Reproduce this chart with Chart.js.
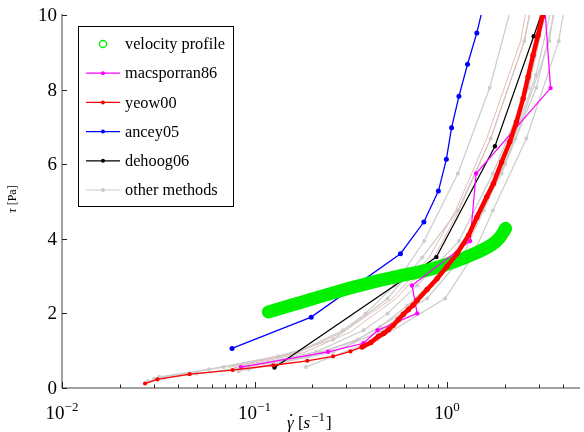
<!DOCTYPE html>
<html>
<head>
<meta charset="utf-8">
<script src="https://cdn.jsdelivr.net/npm/chart.js@4.4.1/dist/chart.umd.min.js"></script>
<style>
  html, body { margin: 0; padding: 0; background: #fff; overflow: hidden; }
  #wrap { width: 584px; height: 432px; }
</style>
</head>
<body>
<div id="wrap"><canvas id="chart" width="584" height="432"></canvas></div>
<script>
// ---- data (shear rate [1/s], stress [Pa]) ----
const velX = [0.118, 0.150, 0.201, 0.271, 0.365, 0.436, 0.586, 0.789, 1.061, 1.428, 1.706, 1.875, 2.015];
const velTau = [2.04, 2.20, 2.39, 2.59, 2.77, 2.87, 3.02, 3.16, 3.36, 3.63, 3.84, 4.03, 4.28];

const macX = [0.085, 0.241, 0.368, 0.436, 0.700, 0.658, 1.318, 1.416, 3.45, 3.20];
const macTau = [0.56, 0.97, 1.20, 1.55, 2.00, 2.75, 3.94, 5.75, 8.04, 10.4];

const yeowX = [0.027, 0.0313, 0.046, 0.077, 0.125, 0.188, 0.256, 0.315, 0.362, 0.402, 0.441, 0.468,
  0.497, 0.525, 0.559, 0.594, 0.630, 0.666, 0.700, 0.788, 0.887, 1.00, 1.127, 1.294, 1.428, 1.607,
  1.741, 1.922, 2.120, 2.295, 2.485, 2.635, 2.797, 2.969, 3.126, 3.28];
const yeowTau = [0.12, 0.23, 0.37, 0.48, 0.61, 0.73, 0.85, 0.98, 1.10, 1.22, 1.39, 1.46,
  1.57, 1.68, 1.83, 1.98, 2.10, 2.22, 2.35, 2.64, 2.93, 3.26, 3.60, 4.09, 4.58, 5.12,
  5.48, 6.06, 6.60, 7.13, 7.76, 8.34, 8.92, 9.46, 9.95, 10.45];

const anceyX = [0.0764, 0.197, 0.573, 0.758, 0.902, 0.992, 1.056, 1.153, 1.278, 1.428, 1.564];
const anceyTau = [1.06, 1.90, 3.60, 4.45, 5.28, 6.13, 6.98, 7.82, 8.68, 9.52, 10.37];

const dehoogX = [0.127, 0.881, 1.774, 2.82, 3.26];
const dehoogTau = [0.55, 3.51, 6.48, 9.43, 10.37];

const otherX = [
  [0.032, 0.0692, 0.169, 0.288, 0.378, 0.533, 0.761, 1.139, 1.666, 2.23],
  [0.0301, 0.0579, 0.133, 0.256, 0.491, 0.743, 1.139, 1.686, 2.52, 2.84],
  [0.028, 0.034, 0.050, 0.080, 0.140, 0.220, 0.330, 0.450, 0.620, 0.900, 1.35, 2.00, 2.90, 3.60],
  [0.0877, 0.209, 0.369, 0.491, 0.700, 1.153, 1.73, 2.65, 3.40],
  [0.0827, 0.190, 0.344, 0.788, 1.195, 1.55, 2.27, 3.40, 3.69],
  [0.0931, 0.256, 0.462, 0.586, 0.837, 1.268, 1.921, 2.911, 3.80],
  [0.185, 0.256, 0.436, 0.977, 1.345, 1.73, 2.585, 3.80, 4.20]
];
const otherTau = [
  [0.30, 0.56, 0.97, 1.55, 2.00, 2.75, 3.94, 5.75, 8.05, 10.5],
  [0.25, 0.50, 0.85, 1.30, 2.40, 3.50, 4.76, 6.69, 9.30, 10.6],
  [0.18, 0.27, 0.38, 0.52, 0.72, 0.95, 1.25, 1.65, 2.20, 3.00, 4.30, 6.00, 8.40, 10.5],
  [0.56, 0.97, 1.55, 2.00, 2.75, 3.94, 5.75, 8.05, 10.5],
  [0.45, 0.85, 1.30, 2.40, 3.50, 4.76, 6.69, 9.30, 10.6],
  [0.50, 0.97, 1.55, 2.00, 2.75, 3.94, 5.75, 8.05, 10.5],
  [0.56, 0.85, 1.30, 2.40, 3.50, 4.76, 6.69, 9.30, 10.6]
];
// two faint rosy curves next to dehoog06
const rosyX = [
  [0.0734, 0.169, 0.288, 0.521, 0.807, 1.11, 1.608, 2.41, 2.68],
  [0.0789, 0.181, 0.314, 0.545, 0.857, 1.153, 1.686, 2.52, 2.81]
];
const rosyTau = [0.55, 0.95, 1.50, 2.40, 3.50, 4.76, 6.69, 9.30, 10.6];

const yTicks = [0, 2, 4, 6, 8, 10];
const xTickExps = [-2, -1, 0];

const SERIF = '"Liberation Serif", "Times New Roman", serif';

function pts(xs, ys) {
  return xs.map((x, i) => ({ x: x, y: ys[i] }));
}

function lineSet(label, xs, ys, color, extra) {
  return Object.assign({
    label: label,
    data: pts(xs, ys),
    borderColor: color,
    backgroundColor: color,
    borderWidth: 1.2,
    pointRadius: 2.2,
    pointBorderWidth: 0,
    pointBackgroundColor: color,
    tension: 0,
    clip: 0
  }, extra || {});
}

// datasets listed top-most first (chart.js paints index 0 last)
const datasets = [
  lineSet("yeow00", yeowX, yeowTau, "#ff0000", {
    borderWidth: 1.3,
    pointRadius: (c) => (c.dataIndex >= 8 ? 2.7 : 2.1),
    segment: { borderWidth: (c) => (c.p0DataIndex >= 8 ? 4.5 : 1.3) }
  }),
  lineSet("macsporran86", macX, macTau, "#ff00ff"),
  lineSet("velocity profile", velX, velTau, "rgb(0,240,0)", {
    borderWidth: 13,
    borderCapStyle: "round",
    borderJoinStyle: "round",
    pointRadius: 0,
    tension: 0.4
  }),
  lineSet("dehoog06", dehoogX, dehoogTau, "#000000"),
  lineSet("ancey05", anceyX, anceyTau, "#0000ff", { borderWidth: 1.3, pointRadius: 2.5 })
];
rosyX.forEach((xs) => {
  datasets.push(lineSet("rosy", xs, rosyTau, "rgb(220,190,183)", { borderWidth: 1, pointRadius: 0 }));
});
otherX.forEach((xs, i) => {
  datasets.push(lineSet(i === 0 ? "other methods" : "other", xs, otherTau[i], "rgb(204,204,204)", {
    borderWidth: 1.2,
    pointRadius: 2
  }));
});

const legendOrder = ["velocity profile", "macsporran86", "yeow00", "ancey05", "dehoog06", "other methods"];

function drawPow(ctx, base, exp, cx, baseline) {
  ctx.font = "19px " + SERIF;
  const wb = ctx.measureText(base).width;
  ctx.font = "13px " + SERIF;
  const we = ctx.measureText(exp).width;
  const x0 = cx - (wb + we) / 2;
  ctx.textAlign = "left";
  ctx.textBaseline = "alphabetic";
  ctx.font = "19px " + SERIF;
  ctx.fillText(base, x0, baseline);
  ctx.font = "13px " + SERIF;
  ctx.fillText(exp, x0 + wb, baseline - 8);
}

const axesPlugin = {
  id: "axes",
  afterDatasetsDraw(chart) {
    const { ctx, chartArea, scales } = chart;
    const xs = scales.x, ys = scales.y;
    const left = chartArea.left, bottom = chartArea.bottom;
    ctx.save();
    ctx.strokeStyle = "#444";
    ctx.lineWidth = 1;
    ctx.beginPath();
    ctx.moveTo(left, chartArea.top - 1);
    ctx.lineTo(left, bottom);
    ctx.lineTo(chartArea.right, bottom);
    ctx.stroke();

    // ticks point inward
    ctx.strokeStyle = "#222";
    ctx.beginPath();
    yTicks.forEach((v) => {
      const py = Math.round(ys.getPixelForValue(v)) + 0.5;
      ctx.moveTo(left, py);
      ctx.lineTo(left + 5, py);
    });
    for (let d = -2; d <= 0; d++) {
      for (let k = 1; k <= 9; k++) {
        const v = k * Math.pow(10, d);
        if (v > xs.max) break;
        const px = Math.round(xs.getPixelForValue(v)) + 0.5;
        ctx.moveTo(px, bottom);
        ctx.lineTo(px, bottom - (k === 1 ? 6 : 3.5));
      }
    }
    ctx.stroke();

    // tick labels
    ctx.fillStyle = "#000";
    ctx.font = "19px " + SERIF;
    ctx.textAlign = "right";
    ctx.textBaseline = "middle";
    yTicks.forEach((v) => {
      ctx.fillText(String(v), left - 5, ys.getPixelForValue(v) + 1);
    });
    xTickExps.forEach((e) => {
      const exp = e < 0 ? "\u2212" + Math.abs(e) : String(e);
      drawPow(ctx, "10", exp, xs.getPixelForValue(Math.pow(10, e)), 419);
    });

    // x title: gamma-dot [s^-1]
    let x = 287;
    const base = 428;
    ctx.textAlign = "left";
    ctx.textBaseline = "alphabetic";
    ctx.font = "italic 17px " + SERIF;
    ctx.fillText("\u03b3", x, base);
    const wg = ctx.measureText("\u03b3").width;
    ctx.beginPath();
    ctx.arc(x + wg * 0.62, base - 13, 1.1, 0, Math.PI * 2);
    ctx.fill();
    x += wg;
    ctx.font = "17px " + SERIF;
    ctx.fillText(" [", x, base);
    x += ctx.measureText(" [").width;
    ctx.font = "italic 17px " + SERIF;
    ctx.fillText("s", x, base);
    x += ctx.measureText("s").width + 1;
    ctx.font = "13px " + SERIF;
    ctx.fillText("\u22121", x, base - 7);
    x += ctx.measureText("\u22121").width + 1;
    ctx.font = "17px " + SERIF;
    ctx.fillText("]", x, base);

    // y title: tau [Pa]
    ctx.save();
    ctx.translate(16, 199);
    ctx.rotate(-Math.PI / 2);
    ctx.font = "italic 12px " + SERIF;
    const wt = ctx.measureText("\u03c4").width;
    ctx.font = "12px " + SERIF;
    const wp = ctx.measureText(" [Pa]").width;
    let tx = -(wt + wp) / 2;
    ctx.font = "italic 12px " + SERIF;
    ctx.fillText("\u03c4", tx, 0);
    ctx.font = "12px " + SERIF;
    ctx.fillText(" [Pa]", tx + wt, 0);
    ctx.restore();

    ctx.restore();
  }
};

const legendPlugin = {
  id: "boxLegend",
  afterDraw(chart) {
    const ctx = chart.ctx;
    const sets = chart.data.datasets;
    ctx.save();
    ctx.fillStyle = "#fff";
    ctx.fillRect(78, 26, 155, 180);
    ctx.strokeStyle = "#000";
    ctx.lineWidth = 1;
    ctx.strokeRect(78.5, 26.5, 155, 180);
    ctx.font = "16.3px " + SERIF;
    ctx.textAlign = "left";
    ctx.textBaseline = "middle";
    legendOrder.forEach((name, i) => {
      const ds = sets.find((d) => d.label === name);
      const y = 44 + i * 29.2;
      if (name === "velocity profile") {
        ctx.strokeStyle = ds.borderColor;
        ctx.lineWidth = 1.3;
        ctx.beginPath();
        ctx.arc(103, y, 3.5, 0, Math.PI * 2);
        ctx.stroke();
      } else {
        ctx.strokeStyle = ds.borderColor;
        ctx.lineWidth = 1.2;
        ctx.beginPath();
        ctx.moveTo(86, y);
        ctx.lineTo(120, y);
        ctx.stroke();
        ctx.fillStyle = ds.borderColor;
        ctx.beginPath();
        ctx.arc(103, y, 2, 0, Math.PI * 2);
        ctx.fill();
      }
      ctx.fillStyle = "#000";
      ctx.fillText(name, 125, y + 1);
    });
    ctx.restore();
  }
};

const chart = new Chart(document.getElementById("chart").getContext("2d"), {
  type: "line",
  data: { datasets: datasets },
  options: {
    responsive: false,
    animation: false,
    devicePixelRatio: 1,
    layout: { padding: { left: 62, right: 0, top: 15, bottom: 44 } },
    plugins: { legend: { display: false }, tooltip: { enabled: false } },
    scales: {
      x: { type: "logarithmic", min: 0.01, max: 4.906, display: false },
      y: { type: "linear", min: 0, max: 10, display: false }
    }
  },
  plugins: [axesPlugin, legendPlugin]
});
</script>
</body>
</html>
